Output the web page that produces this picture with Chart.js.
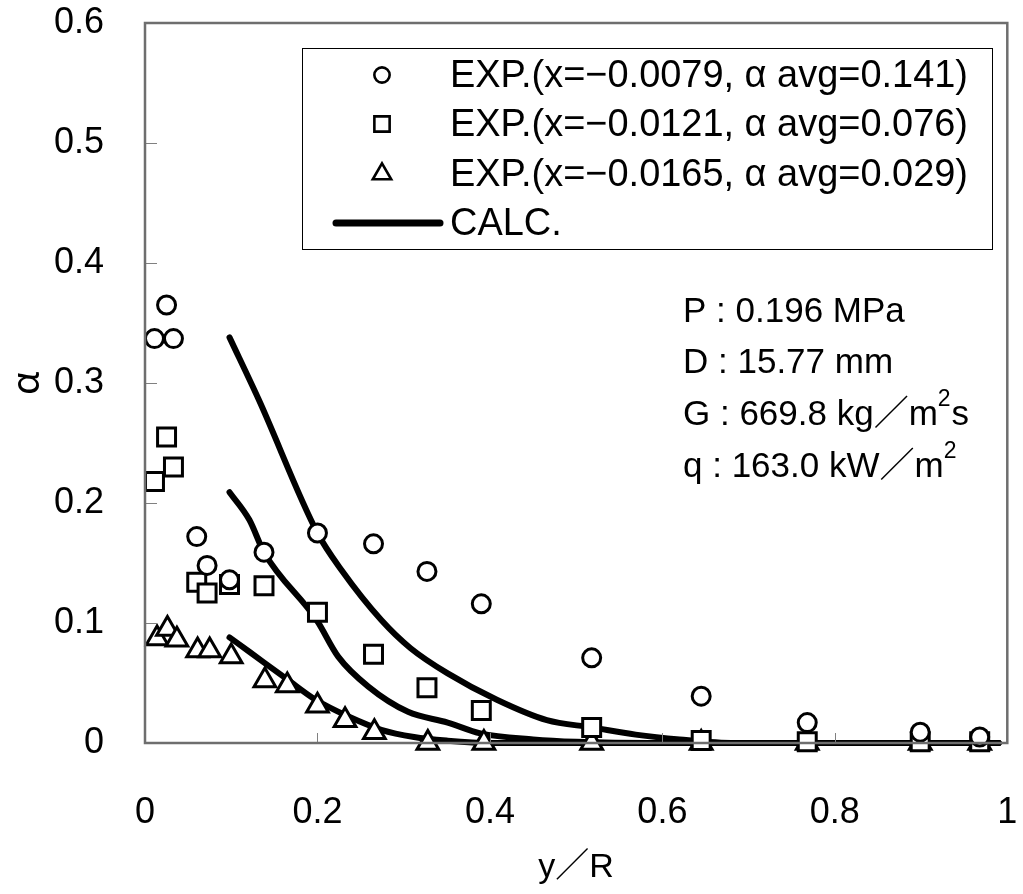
<!DOCTYPE html>
<html>
<head>
<meta charset="utf-8">
<script src="https://cdn.jsdelivr.net/npm/chart.js"></script>
<style>
  body { margin: 0; background: #fff; }
  canvas { display: block; }
</style>
</head>
<body>
<canvas id="chart" width="1023" height="894"></canvas>
<script>
// measured points, y/R vs alpha
const expX = [0.011, 0.025, 0.033, 0.06, 0.072, 0.098, 0.138, 0.2, 0.265, 0.327, 0.39, 0.518, 0.645, 0.768, 0.899, 0.968];
const circleY = [0.337, 0.365, 0.337, 0.172, 0.148, 0.136, 0.159, 0.175, 0.166, 0.143, 0.116, 0.071, 0.039, 0.017, 0.009, 0.005];
const squareY = [0.218, 0.255, 0.23, 0.134, 0.125, 0.132, 0.131, 0.109, 0.074, 0.046, 0.027, 0.013, 0.002, 0.001, 0.001, 0.001];

const triX = [0.014, 0.026, 0.037, 0.061, 0.075, 0.1, 0.139, 0.165, 0.2, 0.232, 0.266, 0.328, 0.393, 0.518, 0.645, 0.768, 0.899, 0.968];
const triY = [0.087, 0.095, 0.086, 0.077, 0.077, 0.072, 0.052, 0.048, 0.031, 0.019, 0.009, 0, 0, 0, 0, 0, 0, 0];

// calculated curves
const calc1X = [0.098, 0.132, 0.2, 0.228, 0.274, 0.308, 0.351, 0.408, 0.466, 0.518, 0.569, 0.62, 0.684, 0.8, 0.99];
const calc1Y = [0.338, 0.286, 0.175, 0.144, 0.1025, 0.079, 0.058, 0.036, 0.019, 0.013, 0.007, 0.003, 0, 0, 0];
const calc2X = [0.098, 0.121, 0.138, 0.199, 0.224, 0.259, 0.305, 0.351, 0.389, 0.45, 0.5, 0.6, 0.99];
const calc2Y = [0.209, 0.186, 0.159, 0.1025, 0.072, 0.047, 0.026, 0.017, 0.008, 0.003, 0.001, 0, 0];
const calc3X = [0.098, 0.121, 0.165, 0.198, 0.236, 0.274, 0.312, 0.35, 0.4, 0.99];
const calc3Y = [0.088, 0.076, 0.053, 0.036, 0.022, 0.011, 0.005, 0.002, 0, 0];

const legendLabels = [
  'EXP.(x=−0.0079, α avg=0.141)',
  'EXP.(x=−0.0121, α avg=0.076)',
  'EXP.(x=−0.0165, α avg=0.029)',
  'CALC.'
];
const notes = ['P : 0.196 MPa', 'D : 15.77 mm', 'G : 669.8 kg／m|2|s', 'q : 163.0 kW／m|2|'];

const pts = (xs, ys) => xs.map((x, i) => ({ x: x, y: ys[i] }));

const markerDs = (label, style, r, data) => ({
  label: label, data: data, showLine: false, clip: false,
  pointStyle: style, pointRadius: r, pointHoverRadius: r,
  pointBorderWidth: 3, pointBackgroundColor: '#fff', pointBorderColor: '#000'
});
const calcDs = (data) => ({
  label: 'CALC.', data: data, showLine: true, pointRadius: 0,
  borderColor: '#000', borderWidth: 6, cubicInterpolationMode: 'monotone',
  borderCapStyle: 'round', borderJoinStyle: 'round', clip: false
});

const fontLat = '"Liberation Sans", Arial, sans-serif';
const fontJp = '"Liberation Sans", "Noto Sans CJK JP", sans-serif';

const framePlugin = {
  id: 'frame',
  afterDatasetsDraw(chart) {
    const { ctx, chartArea: a, scales } = chart;
    ctx.save();
    ctx.strokeStyle = '#808080';
    ctx.lineWidth = 1;
    ctx.beginPath();
    [0.2, 0.4, 0.6, 0.8].forEach(v => {
      const px = Math.round(scales.x.getPixelForValue(v)) + 0.5;
      ctx.moveTo(px, a.bottom); ctx.lineTo(px, a.bottom - 10);
    });
    [0.1, 0.2, 0.3, 0.4, 0.5].forEach(v => {
      const py = Math.round(scales.y.getPixelForValue(v)) + 0.5;
      ctx.moveTo(a.left, py); ctx.lineTo(a.left + 12, py);
    });
    ctx.stroke();
    ctx.strokeStyle = '#6e6e6e';
    ctx.lineWidth = 2.5;
    ctx.strokeRect(a.left, a.top, a.right - a.left, a.bottom - a.top);
    ctx.restore();
  },
  afterDraw(chart) {
    const ctx = chart.ctx;
    const ds = chart.data.datasets;
    ctx.save();
    // legend box
    ctx.fillStyle = '#fff';
    ctx.fillRect(302, 48, 691, 202);
    ctx.strokeStyle = '#000';
    ctx.lineWidth = 1;
    ctx.strokeRect(302.5, 48.5, 690, 201);
    const rows = [75, 124, 174, 223];
    ctx.font = '39px ' + fontJp;
    ctx.textBaseline = 'middle';
    const sx = 518 / ctx.measureText(legendLabels[0]).width;
    rows.forEach((ry, i) => {
      ctx.fillStyle = '#fff';
      ctx.strokeStyle = '#000';
      if (i < 3) {
        ctx.lineWidth = 2.6;
        Chart.helpers.drawPoint(ctx, { pointStyle: ds[i].pointStyle, radius: ds[i].pointRadius * 0.85, borderWidth: 2.6, rotation: 0 }, 382, ry);
      } else {
        ctx.lineWidth = 7;
        ctx.lineCap = 'round';
        ctx.beginPath(); ctx.moveTo(336, ry); ctx.lineTo(440, ry); ctx.stroke();
      }
      ctx.fillStyle = '#000';
      ctx.save();
      ctx.translate(450, ry + 1);
      ctx.scale(sx, 1);
      ctx.fillText(legendLabels[i], 0, 0);
      ctx.restore();
    });
    // condition notes, "|" marks a superscript piece
    const nrows = [312, 363, 415, 467];
    notes.forEach((t, i) => {
      let x = 683;
      t.split('|').forEach((part, k) => {
        const sup = k % 2 === 1;
        ctx.font = (sup ? '23px ' : '35px ') + fontJp;
        ctx.fillText(part, x, nrows[i] + (sup ? -15 : 0));
        x += ctx.measureText(part).width + (sup ? 1 : 0);
      });
    });
    ctx.restore();
  }
};

const fixBox = (w, h) => s => {
  if (w) s.width = w;
  if (h) s.height = h;
  s.paddingLeft = 0; s.paddingRight = 0; s.paddingTop = 0; s.paddingBottom = 0;
};

new Chart(document.getElementById('chart'), {
  type: 'scatter',
  data: {
    datasets: [
      markerDs(legendLabels[0], 'circle', 9, pts(expX, circleY)),
      markerDs(legendLabels[1], 'rect', 12.7, pts(expX, squareY)),
      markerDs(legendLabels[2], 'triangle', 12.5, pts(triX, triY)),
      calcDs(pts(calc1X, calc1Y)),
      calcDs(pts(calc2X, calc2Y)),
      calcDs(pts(calc3X, calc3Y))
    ]
  },
  options: {
    responsive: false,
    animation: false,
    layout: { padding: { top: 23, right: 8, left: 0, bottom: 0 } },
    plugins: { legend: { display: false }, tooltip: { enabled: false } },
    scales: {
      x: {
        type: 'linear', min: 0, max: 1,
        grid: { display: false }, border: { display: false },
        ticks: { stepSize: 0.2, color: '#000', padding: 40, maxRotation: 0, font: { family: fontLat, size: 36 },
          callback: v => String(Math.round(v * 10) / 10) },
        title: { display: true, text: 'y／R', color: '#000', padding: { top: 0, bottom: 6 }, font: { family: fontJp, size: 34 } },
        afterFit: fixBox(0, 151)
      },
      y: {
        type: 'linear', min: 0, max: 0.6,
        grid: { display: false }, border: { display: false },
        ticks: { stepSize: 0.1, color: '#000', padding: 33, font: { family: fontLat, size: 36 },
          callback: v => String(Math.round(v * 10) / 10) },
        title: { display: true, text: 'α', color: '#000', padding: { top: 2, bottom: 0 }, font: { family: '"Noto Sans CJK JP", sans-serif', size: 38 } },
        afterFit: fixBox(145, 0)
      }
    }
  },
  plugins: [framePlugin]
});
</script>
</body>
</html>
